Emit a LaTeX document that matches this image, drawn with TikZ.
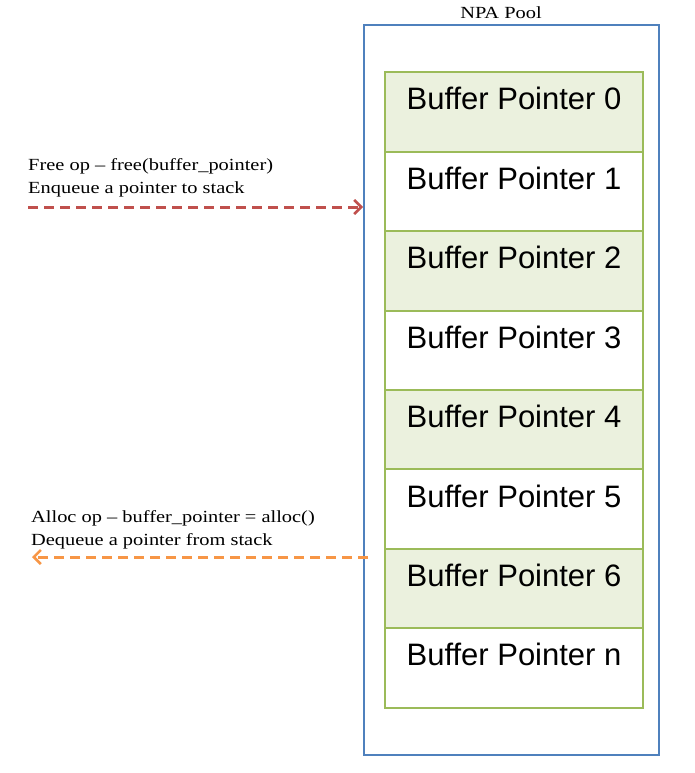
\documentclass[tikz,border=0pt]{standalone}
\usepackage{fontspec}
\setmainfont{Liberation Serif}[FakeStretch=1.2]
\setsansfont{Liberation Sans}
\usetikzlibrary{arrows.meta}
\definecolor{poolblue}{HTML}{4F81BD}
\definecolor{cellgreen}{HTML}{9BBB59}
\definecolor{cellfill}{HTML}{EBF1DE}
\definecolor{freered}{HTML}{C0504D}
\definecolor{allocorange}{HTML}{F79646}
\tikzset{
  pool/.style={draw=poolblue, line width=2pt, minimum width=295pt, minimum height=730pt, inner sep=0pt},
  cellbox/.style={draw=cellgreen, line width=2pt, minimum width=258pt, minimum height=79.4pt, inner sep=0pt,
    text height=22pt, text depth=26pt, font=\sffamily\fontsize{31}{36}\selectfont},
  shaded/.style={cellbox, fill=cellfill},
  plain/.style={cellbox, fill=white},
  optext/.style={anchor=base west, inner sep=0pt, font=\fontsize{17}{20}\selectfont},
  opline/.style={dash pattern=on 10pt off 6pt, line width=3pt, -{Straight Barb[length=7pt,width=14pt,line width=2.6pt]}},
}
\begin{document}
\begin{tikzpicture}[x=1pt,y=-1pt]
\useasboundingbox (0,0) rectangle (695,773);
\node[pool] (pool) at (511.5,390) {};
\node[anchor=base, inner sep=0pt, font=\fontsize{17}{20}\selectfont] (title) at (501,19) {NPA Pool};
\node[shaded] (c0) at (514,112) {Buffer Pointer 0};
\node[plain]  (c1) at (514,191.4) {Buffer Pointer 1};
\node[shaded] (c2) at (514,270.8) {Buffer Pointer 2};
\node[plain]  (c3) at (514,350.2) {Buffer Pointer 3};
\node[shaded] (c4) at (514,429.6) {Buffer Pointer 4};
\node[plain]  (c5) at (514,509) {Buffer Pointer 5};
\node[shaded] (c6) at (514,588.4) {Buffer Pointer 6};
\node[plain]  (c7) at (514,667.8) {Buffer Pointer n};
% free op
\node[optext] (f1) at (28,170) {Free op – free(buffer\_pointer)};
\node[optext] (f2) at (28,193) {Enqueue a pointer to stack};
\coordinate (fs) at (28,207);
\draw[opline, draw=freered] (fs) -- (fs -| pool.west);
% alloc op
\node[optext] (a1) at (31,522) {Alloc op – buffer\_pointer = alloc()};
\node[optext] (a2) at (31,545) {Dequeue a pointer from stack};
\coordinate (as) at (368,557);
\coordinate (ae) at (32,557);
\draw[opline, draw=allocorange] (as) -- (ae);
\end{tikzpicture}
\end{document}
